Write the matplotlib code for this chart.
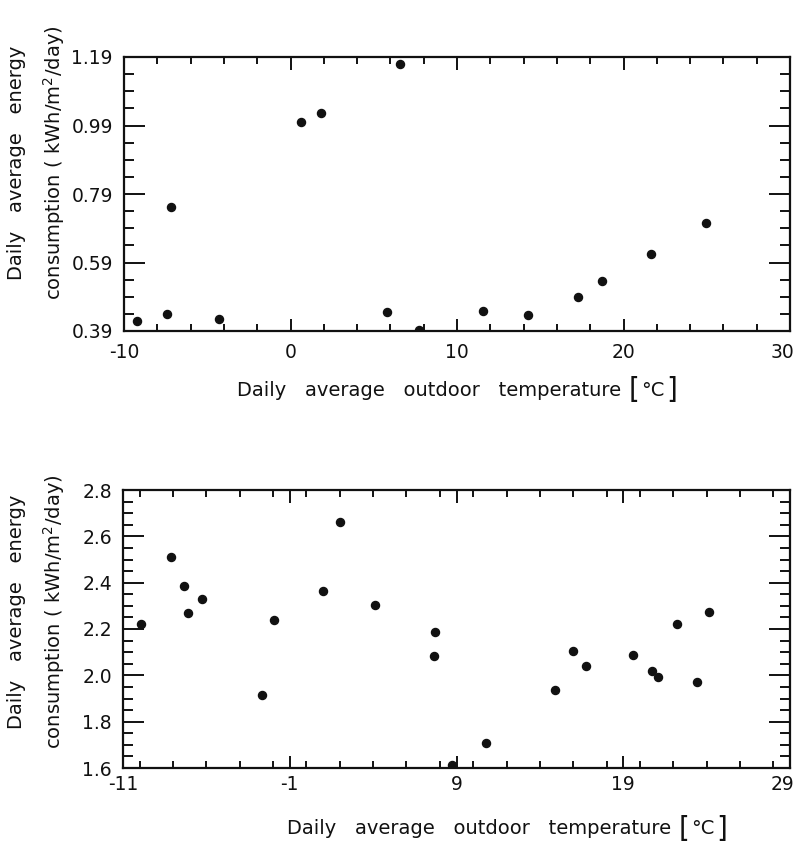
import matplotlib
matplotlib.use("Agg")
import matplotlib.pyplot as plt
import matplotlib.transforms as mtransforms
from matplotlib.ticker import FixedLocator, FixedFormatter, MultipleLocator
from matplotlib.offsetbox import TextArea, HPacker, AnchoredOffsetbox

plt.rcParams['font.family'] = ['DejaVu Sans']

# ---- Data: top panel ----
top_temp = [-9.2, -7.4, -7.2, -4.3, 0.66, 1.86, 6.58, 5.82, 7.7, 11.54, 14.28, 17.24, 18.72, 21.68, 24.96]
top_energy = [0.42, 0.439, 0.751, 0.425, 0.999, 1.027, 1.17, 0.446, 0.393, 0.449, 0.437, 0.488, 0.536, 0.615, 0.705]
top_xticks = [-10, 0, 10, 20, 30]
top_xticklabels = ["-10", "0", "10", "20", "30"]
top_yticks = [0.39, 0.59, 0.79, 0.99, 1.19]
top_yticklabels = ["0.39", "0.59", "0.79", "0.99", "1.19"]

# ---- Data: bottom panel ----
bot_temp = [-9.92, -8.11, -7.35, -7.11, -6.29, -2.68, -1.96, 0.98, 2.03, 4.13,
            7.72, 7.68, 8.76, 10.77, 14.9, 16.0, 16.76, 19.6, 20.7, 21.1, 22.23, 23.4, 24.17]
bot_energy = [2.222, 2.511, 2.387, 2.268, 2.329, 1.913, 2.24, 2.366, 2.661, 2.304,
              2.185, 2.084, 1.612, 1.708, 1.935, 2.104, 2.04, 2.086, 2.017, 1.991, 2.221, 1.971, 2.275]
bot_xticks = [-11, -1, 9, 19, 29]
bot_xticklabels = ["-11", "-1", "9", "19", "29"]
bot_yticks = [1.6, 1.8, 2.0, 2.2, 2.4, 2.6, 2.8]
bot_yticklabels = ["1.6", "1.8", "2.0", "2.2", "2.4", "2.6", "2.8"]

ylabel_text = "Daily   average   energy\nconsumption ( kWh/m$^2$/day)"
xlabel_words = "Daily   average   outdoor   temperature "
xlabel_unit = "°C"

W, H = 797, 848
fig = plt.figure(figsize=(W / 100, H / 100), dpi=100)
INK = '#111111'


def style(ax, xlim, ylim, xt, xtl, yt, ytl, xminor, yminor, xpad):
    ax.set_xlim(*xlim)
    ax.set_ylim(*ylim)
    ax.xaxis.set_major_locator(FixedLocator(xt))
    ax.xaxis.set_major_formatter(FixedFormatter(xtl))
    ax.yaxis.set_major_locator(FixedLocator(yt))
    ax.yaxis.set_major_formatter(FixedFormatter(ytl))
    ax.xaxis.set_minor_locator(MultipleLocator(xminor))
    ax.yaxis.set_minor_locator(FixedLocator(
        [ylim[0] + i * yminor for i in range(int(round((ylim[1] - ylim[0]) / yminor)) + 1)]))
    for s in ax.spines.values():
        s.set_linewidth(1.6)
        s.set_color(INK)
    ax.tick_params(axis='both', which='both', direction='in', top=True, right=True,
                   colors=INK, width=1.4)
    ax.tick_params(axis='x', which='major', length=9, pad=xpad, labelsize=13.5)
    ax.tick_params(axis='x', which='minor', length=5)
    ax.tick_params(axis='y', which='major', length=15, pad=8, labelsize=13.5)
    ax.tick_params(axis='y', which='minor', length=7)
    # nudge last x tick label inward so it stays inside the figure
    last = ax.xaxis.get_major_ticks()[-1].label1
    last.set_transform(last.get_transform() +
                       mtransforms.ScaledTranslation(-8 / 100, 0, fig.dpi_scale_trans))


def xlabel(xc, yc):
    parts = [
        TextArea(xlabel_words, textprops=dict(fontsize=14, color=INK)),
        TextArea("[", textprops=dict(fontsize=20, color=INK)),
        TextArea(xlabel_unit, textprops=dict(fontsize=14, color=INK)),
        TextArea("]", textprops=dict(fontsize=20, color=INK)),
    ]
    box = HPacker(children=parts, align="center", pad=0, sep=1)
    anchored = AnchoredOffsetbox(loc='center', child=box, pad=0, borderpad=0,
                                 frameon=False, bbox_to_anchor=(xc / W, 1 - yc / H),
                                 bbox_transform=fig.transFigure)
    fig.add_artist(anchored)


ax1 = fig.add_axes([124 / W, 1 - 331 / H, (790 - 124) / W, (331 - 57) / H])
ax1.plot(top_temp, top_energy, 'o', color=INK, ms=5.8)
style(ax1, (-10, 30), (0.39, 1.19), top_xticks, top_xticklabels,
      top_yticks, top_yticklabels, 2, 0.05, 9)

ax2 = fig.add_axes([123 / W, 1 - 768 / H, (790 - 123) / W, (768 - 490) / H])
ax2.plot(bot_temp, bot_energy, 'o', color=INK, ms=5.8)
style(ax2, (-11, 29), (1.6, 2.8), bot_xticks, bot_xticklabels,
      bot_yticks, bot_yticklabels, 2, 0.05, 5)

# y labels
for yc in (163, 612):
    fig.text(37 / W, 1 - yc / H, ylabel_text, rotation=90, ha='center', va='center',
             fontsize=14, color=INK, linespacing=1.75, multialignment='center')

# x labels
xlabel(457, 390)
xlabel(507, 829)

fig.savefig("out.png", dpi=100)
